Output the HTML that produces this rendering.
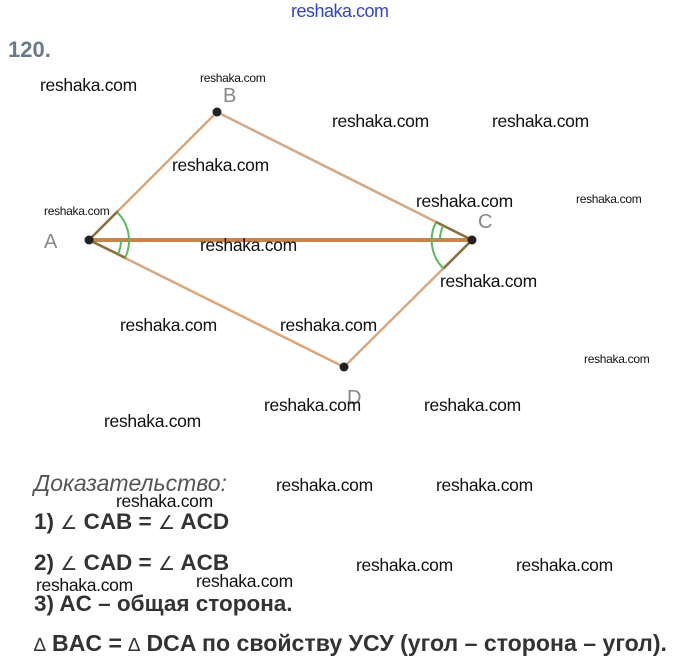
<!DOCTYPE html>
<html><head><meta charset="utf-8"><style>
body{margin:0;width:677px;height:660px;background:#fff;position:relative;overflow:hidden;font-family:"Liberation Sans",sans-serif}
.w{position:absolute;font-size:17.5px;color:#111;white-space:nowrap;letter-spacing:-0.3px}
.s{position:absolute;font-size:12px;color:#111;white-space:nowrap;letter-spacing:-0.3px}
.t{position:absolute;font-size:22.5px;font-weight:bold;color:#333;white-space:nowrap}
.a{font-weight:normal;font-size:19px}
.l{position:absolute;font-size:20px;color:#888;}
</style></head><body>
<div style="position:absolute;left:291px;top:1px;font-size:18px;color:#3344cc;letter-spacing:-0.5px">reshaka.com</div>
<div style="position:absolute;left:8px;top:37px;font-size:22px;font-weight:bold;color:#6a7a8a">120.</div>
<svg width="677" height="660" style="position:absolute;left:0;top:0">
<g fill="none">
<line x1="89" y1="240" x2="217" y2="112" stroke="#d9a880" stroke-width="2.5"/>
<line x1="217" y1="112" x2="472" y2="240" stroke="#d9a880" stroke-width="2.5"/>
<line x1="89" y1="240" x2="344" y2="367" stroke="#d9a880" stroke-width="2.5"/>
<line x1="344" y1="367" x2="472" y2="240" stroke="#d9a880" stroke-width="2.5"/>
<line x1="89" y1="240" x2="472" y2="240" stroke="#c9844a" stroke-width="4"/>
<line x1="89" y1="240" x2="118" y2="211" stroke="#8a7040" stroke-width="2.5"/>
<line x1="89" y1="240" x2="126" y2="258" stroke="#8a7040" stroke-width="2.5"/>
<line x1="472" y1="240" x2="436" y2="222" stroke="#8a7040" stroke-width="2.5"/>
<line x1="472" y1="240" x2="443" y2="269" stroke="#8a7040" stroke-width="2.5"/>
<path d="M117,212 A40,40 0 0 1 125,258" stroke="#5cb85c" stroke-width="2"/>
<path d="M121,240 A32,32 0 0 1 118,254" stroke="#5cb85c" stroke-width="2"/>
<path d="M436,222 A40,40 0 0 0 444,269" stroke="#5cb85c" stroke-width="2"/>
<path d="M443,226 A32,32 0 0 0 440,240" stroke="#5cb85c" stroke-width="2"/>
</g>
<circle cx="89" cy="240" r="4.5" fill="#222"/>
<circle cx="217" cy="112" r="4.5" fill="#222"/>
<circle cx="472" cy="240" r="4.5" fill="#222"/>
<circle cx="344" cy="367" r="4.5" fill="#222"/>
</svg>
<div class="l" style="left:44px;top:231px">A</div>
<div class="l" style="left:223px;top:85px">B</div>
<div class="l" style="left:478px;top:211px">C</div>
<div class="l" style="left:347px;top:387px">D</div>
<div class="w" style="left:40px;top:75px">reshaka.com</div>
<div class="s" style="left:200px;top:71px">reshaka.com</div>
<div class="w" style="left:332px;top:111px">reshaka.com</div>
<div class="w" style="left:492px;top:111px">reshaka.com</div>
<div class="w" style="left:172px;top:155px">reshaka.com</div>
<div class="s" style="left:44px;top:204px">reshaka.com</div>
<div class="w" style="left:416px;top:191px">reshaka.com</div>
<div class="s" style="left:576px;top:192px">reshaka.com</div>
<div class="w" style="left:200px;top:235px">reshaka.com</div>
<div class="w" style="left:440px;top:271px">reshaka.com</div>
<div class="w" style="left:120px;top:315px">reshaka.com</div>
<div class="w" style="left:280px;top:315px">reshaka.com</div>
<div class="s" style="left:584px;top:352px">reshaka.com</div>
<div class="w" style="left:264px;top:395px">reshaka.com</div>
<div class="w" style="left:424px;top:395px">reshaka.com</div>
<div class="w" style="left:104px;top:411px">reshaka.com</div>
<div style="position:absolute;left:34px;top:470px;font-size:23px;font-style:italic;color:#555">Доказательство:</div>
<div class="w" style="left:276px;top:475px">reshaka.com</div>
<div class="w" style="left:436px;top:475px">reshaka.com</div>
<div class="w" style="left:116px;top:491px">reshaka.com</div>
<div class="t" style="left:34px;top:509px">1) <span class="a">∠</span> CAB = <span class="a">∠</span> ACD</div>
<div class="t" style="left:34px;top:550px">2) <span class="a">∠</span> CAD = <span class="a">∠</span> ACB</div>
<div class="w" style="left:356px;top:555px">reshaka.com</div>
<div class="w" style="left:516px;top:555px">reshaka.com</div>
<div class="w" style="left:196px;top:571px">reshaka.com</div>
<div class="w" style="left:36px;top:575px">reshaka.com</div>
<div class="t" style="left:34px;top:591px">3) AC – общая сторона.</div>
<div class="t" style="left:34px;top:630px;font-size:23.1px"><span class="a">∆</span> BAC = <span class="a">∆</span> DCA по свойству УСУ (угол – сторона – угол).</div>
</body></html>
